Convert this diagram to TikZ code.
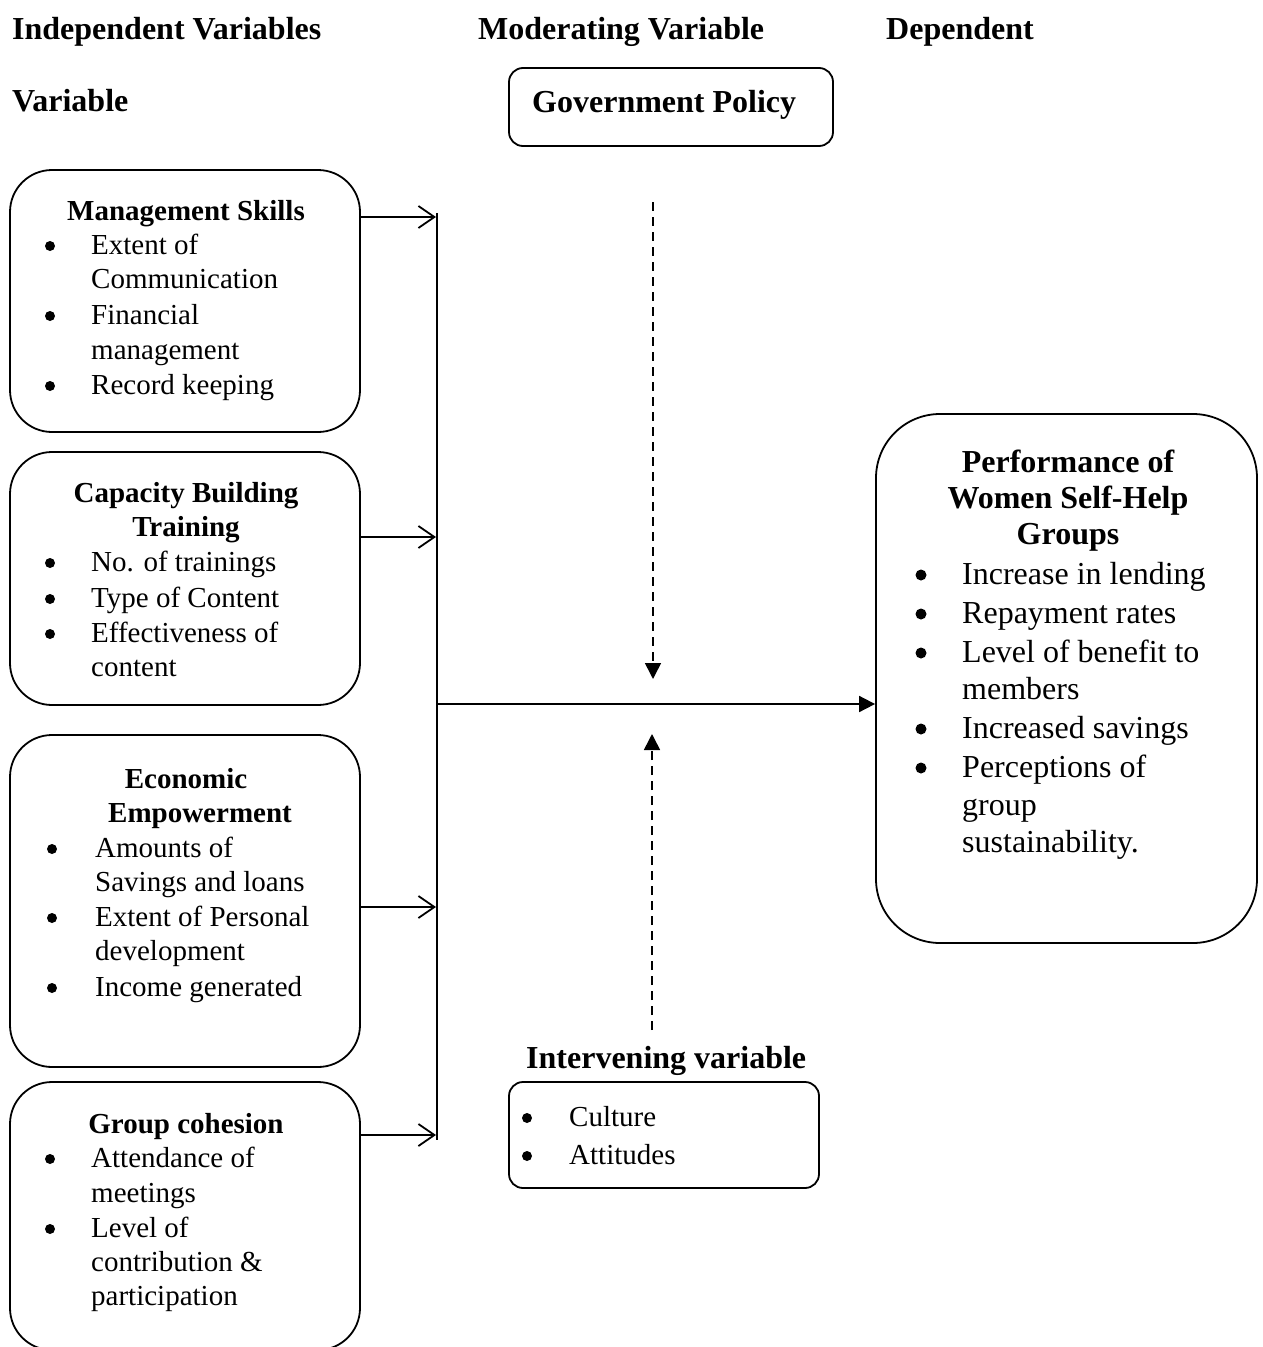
\documentclass[tikz,border=0pt]{standalone}
\usepackage{fontspec}
\setmainfont{Liberation Serif}
\usetikzlibrary{arrows.meta}
\begin{document}
\begin{tikzpicture}[x=1pt,y=-1pt,
  lw/.style={line width=1.8pt},
  box/.style={draw, lw, rounded corners=42pt, inner sep=0pt},
  hd/.style={font=\fontsize{32}{38}\selectfont\bfseries, inner sep=0pt, anchor=base west},
  hdc/.style={font=\fontsize{32}{38}\selectfont\bfseries, inner sep=0pt, anchor=base},
  ttl/.style={font=\fontsize{29}{35}\selectfont\bfseries, inner sep=0pt, anchor=base},
  tx/.style={font=\fontsize{29}{35}\selectfont, inner sep=0pt, anchor=base west},
  btx/.style={font=\fontsize{32}{38}\selectfont, inner sep=0pt, anchor=base west},
  bul/.style={circle, fill, draw=none, inner sep=0pt, minimum size=10pt},
  bbul/.style={circle, fill, draw=none, inner sep=0pt, minimum size=11pt},
  barb/.style={lw, -{Straight Barb[length=16pt,width=22pt]}},
  tri/.style={lw, -{Triangle[length=16pt,width=16pt]}},
  dsh/.style={line width=1.6pt, dash pattern=on 9pt off 6pt, -{Triangle[length=16pt,width=16pt]}}
]
\useasboundingbox (0,0) rectangle (1263,1347);
\begin{scope}
\clip (0,0) rectangle (1263,1347);
% headings
\node[hd] (h1) at (12,39) {Independent Variables};
\node[hd] (h2) at (12,111) {Variable};
\node[hd] (h3) at (478,39) {Moderating Variable};
\node[hd] (h4) at (886,39) {Dependent};

% boxes
\node[box, minimum width=350pt, minimum height=262pt] (ms) at (185,301) {};
\node[box, minimum width=350pt, minimum height=253pt] (cb) at (185,578.5) {};
\node[box, minimum width=350pt, minimum height=332pt] (ee) at (185,901) {};
\node[box, minimum width=350pt, minimum height=268pt] (gc) at (185,1216) {};
\node[box, rounded corners=64pt, minimum width=381pt, minimum height=529pt] (perf) at (1066.5,678.5) {};
\node[box, rounded corners=14pt, minimum width=324pt, minimum height=78pt] (gov) at (671,107) {};
\node[box, rounded corners=14pt, minimum width=310pt, minimum height=106pt] (int) at (664,1135) {};

% government / intervening
\node[hd] (govt) at (532,112) {Government Policy};
\node[hd] (intt) at (526,1068) {Intervening variable};
\node[bul] (ib1) at (527,1118) {};
\node[tx] (i1) at (569,1126) {Culture};
\node[bul] (ib2) at (527,1156) {};
\node[tx] (i2) at (569,1164) {Attitudes};

% management skills
\node[ttl] (mt) at (186,220) {Management Skills};
\node[bul] (mb1) at (50,246) {};
\node[tx] (m1) at (91,254) {Extent of};
\node[tx] (m2) at (91,288) {Communication};
\node[bul] (mb2) at (50,316) {};
\node[tx] (m3) at (91,324) {Financial};
\node[tx] (m4) at (91,359) {management};
\node[bul] (mb3) at (50,386) {};
\node[tx] (m5) at (91,394) {Record keeping};

% capacity building
\node[ttl] (ct1) at (186,502) {Capacity Building};
\node[ttl] (ct2) at (186,536) {Training};
\node[bul] (cb1) at (50,563) {};
\node[tx] (c1) at (91,571) {No. of trainings};
\node[bul] (cb2) at (50,599) {};
\node[tx] (c2) at (91,607) {Type of Content};
\node[bul] (cb3) at (50,634) {};
\node[tx] (c3) at (91,642) {Effectiveness of};
\node[tx] (c4) at (91,676) {content};

% economic empowerment
\node[ttl] (et1) at (186,788) {Economic};
\node[ttl] (et2) at (200,822) {Empowerment};
\node[bul] (eb1) at (52,849) {};
\node[tx] (e1) at (95,857) {Amounts of};
\node[tx] (e2) at (95,891) {Savings and loans};
\node[bul] (eb2) at (52,918) {};
\node[tx] (e3) at (95,926) {Extent of Personal};
\node[tx] (e4) at (95,960) {development};
\node[bul] (eb3) at (52,988) {};
\node[tx] (e5) at (95,996) {Income generated};

% group cohesion
\node[ttl] (gt) at (186,1133) {Group cohesion};
\node[bul] (gb1) at (50,1159) {};
\node[tx] (g1) at (91,1167) {Attendance of};
\node[tx] (g2) at (91,1202) {meetings};
\node[bul] (gb2) at (50,1229) {};
\node[tx] (g3) at (91,1237) {Level of};
\node[tx] (g4) at (91,1271) {contribution \&};
\node[tx] (g5) at (91,1305) {participation};

% performance
\node[hdc] (pt1) at (1068,472) {Performance of};
\node[hdc] (pt2) at (1068,508) {Women Self-Help};
\node[hdc] (pt3) at (1068,544) {Groups};
\node[bbul] (pb1) at (921,575) {};
\node[btx] (p1) at (962,584) {Increase in lending};
\node[bbul] (pb2) at (921,614) {};
\node[btx] (p2) at (962,623) {Repayment rates};
\node[bbul] (pb3) at (921,653) {};
\node[btx] (p3) at (962,662) {Level of benefit to};
\node[btx] (p4) at (962,699) {members};
\node[bbul] (pb4) at (921,729) {};
\node[btx] (p5) at (962,738) {Increased savings};
\node[bbul] (pb5) at (921,768) {};
\node[btx] (p6) at (962,777) {Perceptions of};
\node[btx] (p7) at (962,815) {group};
\node[btx] (p8) at (962,852) {sustainability.};
\end{scope}

% connectors
\coordinate (vtop) at (437,213);
\coordinate (vbot) at (437,1140);
\coordinate (vmid) at (437,704);
\coordinate (a1) at (436,217);
\coordinate (a2) at (436,537);
\coordinate (a3) at (436,907);
\coordinate (a4) at (436,1135);
\draw[lw] (vtop) -- (vbot);
\draw[barb] (ms.east |- a1) -- (a1);
\draw[barb] (cb.east |- a2) -- (a2);
\draw[barb] (ee.east |- a3) -- (a3);
\draw[barb] (gc.east |- a4) -- (a4);
\draw[tri] (vmid) -- (perf.west |- vmid);
\coordinate (d1s) at (653,202);
\coordinate (d1e) at (653,679);
\coordinate (d2s) at (652,1030);
\coordinate (d2e) at (652,734);
\draw[dsh] (d1s) -- (d1e);
\draw[dsh] (d2s) -- (d2e);
\end{tikzpicture}
\end{document}
